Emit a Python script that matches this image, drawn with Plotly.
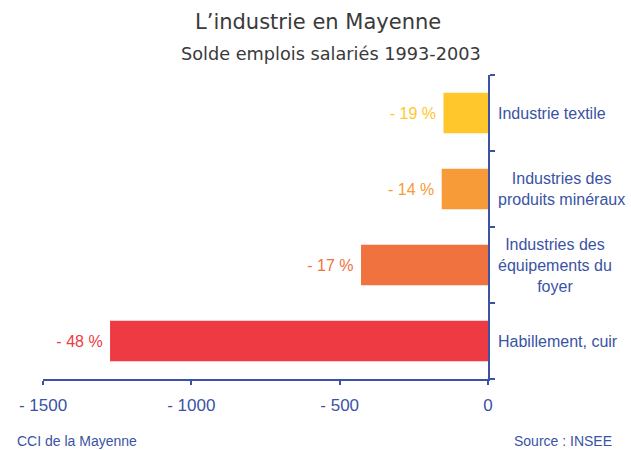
import plotly.graph_objects as go

categories = ["Habillement, cuir", "Industries des<br>équipements du<br>foyer",
              "Industries des<br>produits minéraux", "Industrie textile"]
values = [-1274, -428, -156, -150]
pct_labels = ["- 48 %", "- 17 %", "- 14 %", "- 19 %"]
bar_colors = ["#EE3A43", "#F0723E", "#F79A38", "#FFC72C"]
text_colors = ["#EE3A43", "#F0723E", "#F79A38", "#FFC72C"]
x_tickvals = [-1500, -1000, -500, 0]
x_ticktext = ["- 1500", "- 1000", "- 500", "0"]

blue = "#3A53A4"
font_main = "Liberation Sans, Arial, sans-serif"

fig = go.Figure(go.Bar(
    x=values, y=categories, orientation="h",
    marker=dict(color=bar_colors, line=dict(width=0)),
    text=[t + "\u00a0" for t in pct_labels], textposition="outside",
    textfont=dict(color=text_colors, size=16, family=font_main),
    cliponaxis=False, hoverinfo="skip",
))

for cat in categories:
    fig.add_annotation(x=1, xref="paper", y=cat, yref="y", text=cat,
                       xanchor="left", xshift=8, align="center", showarrow=False,
                       font=dict(color=blue, size=16, family=font_main))

fig.add_annotation(x=0.5, xref="paper", y=1, yref="paper", yshift=53,
                   text="L’industrie en Mayenne", showarrow=False,
                   xanchor="center", yanchor="middle", xshift=52,
                   font=dict(color="#3A3A3A", size=21, family="DejaVu Sans, sans-serif"))
fig.add_annotation(x=0.5, xref="paper", y=1, yref="paper", yshift=21,
                   text="Solde emplois salariés 1993-2003", showarrow=False,
                   xanchor="center", yanchor="middle", xshift=65,
                   font=dict(color="#3A3A3A", size=17.7, family="DejaVu Sans, sans-serif"))

fig.update_layout(
    width=631, height=450,
    margin=dict(l=43, r=143, t=75, b=71),
    paper_bgcolor="white", plot_bgcolor="white",
    showlegend=False, bargap=0.47,
    xaxis=dict(range=[-1500, 0], tickvals=x_tickvals, ticktext=x_ticktext,
               showgrid=False, zeroline=False, showline=True, linecolor=blue,
               linewidth=1.5, ticks="outside", ticklen=4, tickcolor=blue, tickwidth=1.5,
               tickfont=dict(color=blue, size=17, family=font_main),
               ticklabelstandoff=6, fixedrange=True),
    yaxis=dict(side="right", showticklabels=False, showgrid=False, showline=True,
               linecolor=blue, linewidth=1.5, ticks="outside", ticklen=5,
               tickcolor=blue, tickwidth=1.5, tickson="boundaries",
               categoryorder="array", categoryarray=categories, fixedrange=True),
)

fig.add_annotation(x=-43 / 445, xref="paper", y=-71 / 304, yref="paper", yshift=9,
                   text="CCI de la Mayenne", showarrow=False, xanchor="left",
                   yanchor="middle", xshift=15,
                   font=dict(color=blue, size=14, family=font_main))
fig.add_annotation(x=1 + 143 / 445, xref="paper", y=-71 / 304, yref="paper", yshift=9,
                   text="Source : INSEE", showarrow=False, xanchor="right",
                   yanchor="middle", xshift=-17,
                   font=dict(color=blue, size=14, family=font_main))

fig.write_html("out.html", config={"displayModeBar": False},
               post_script="document.body.style.margin='0';")
